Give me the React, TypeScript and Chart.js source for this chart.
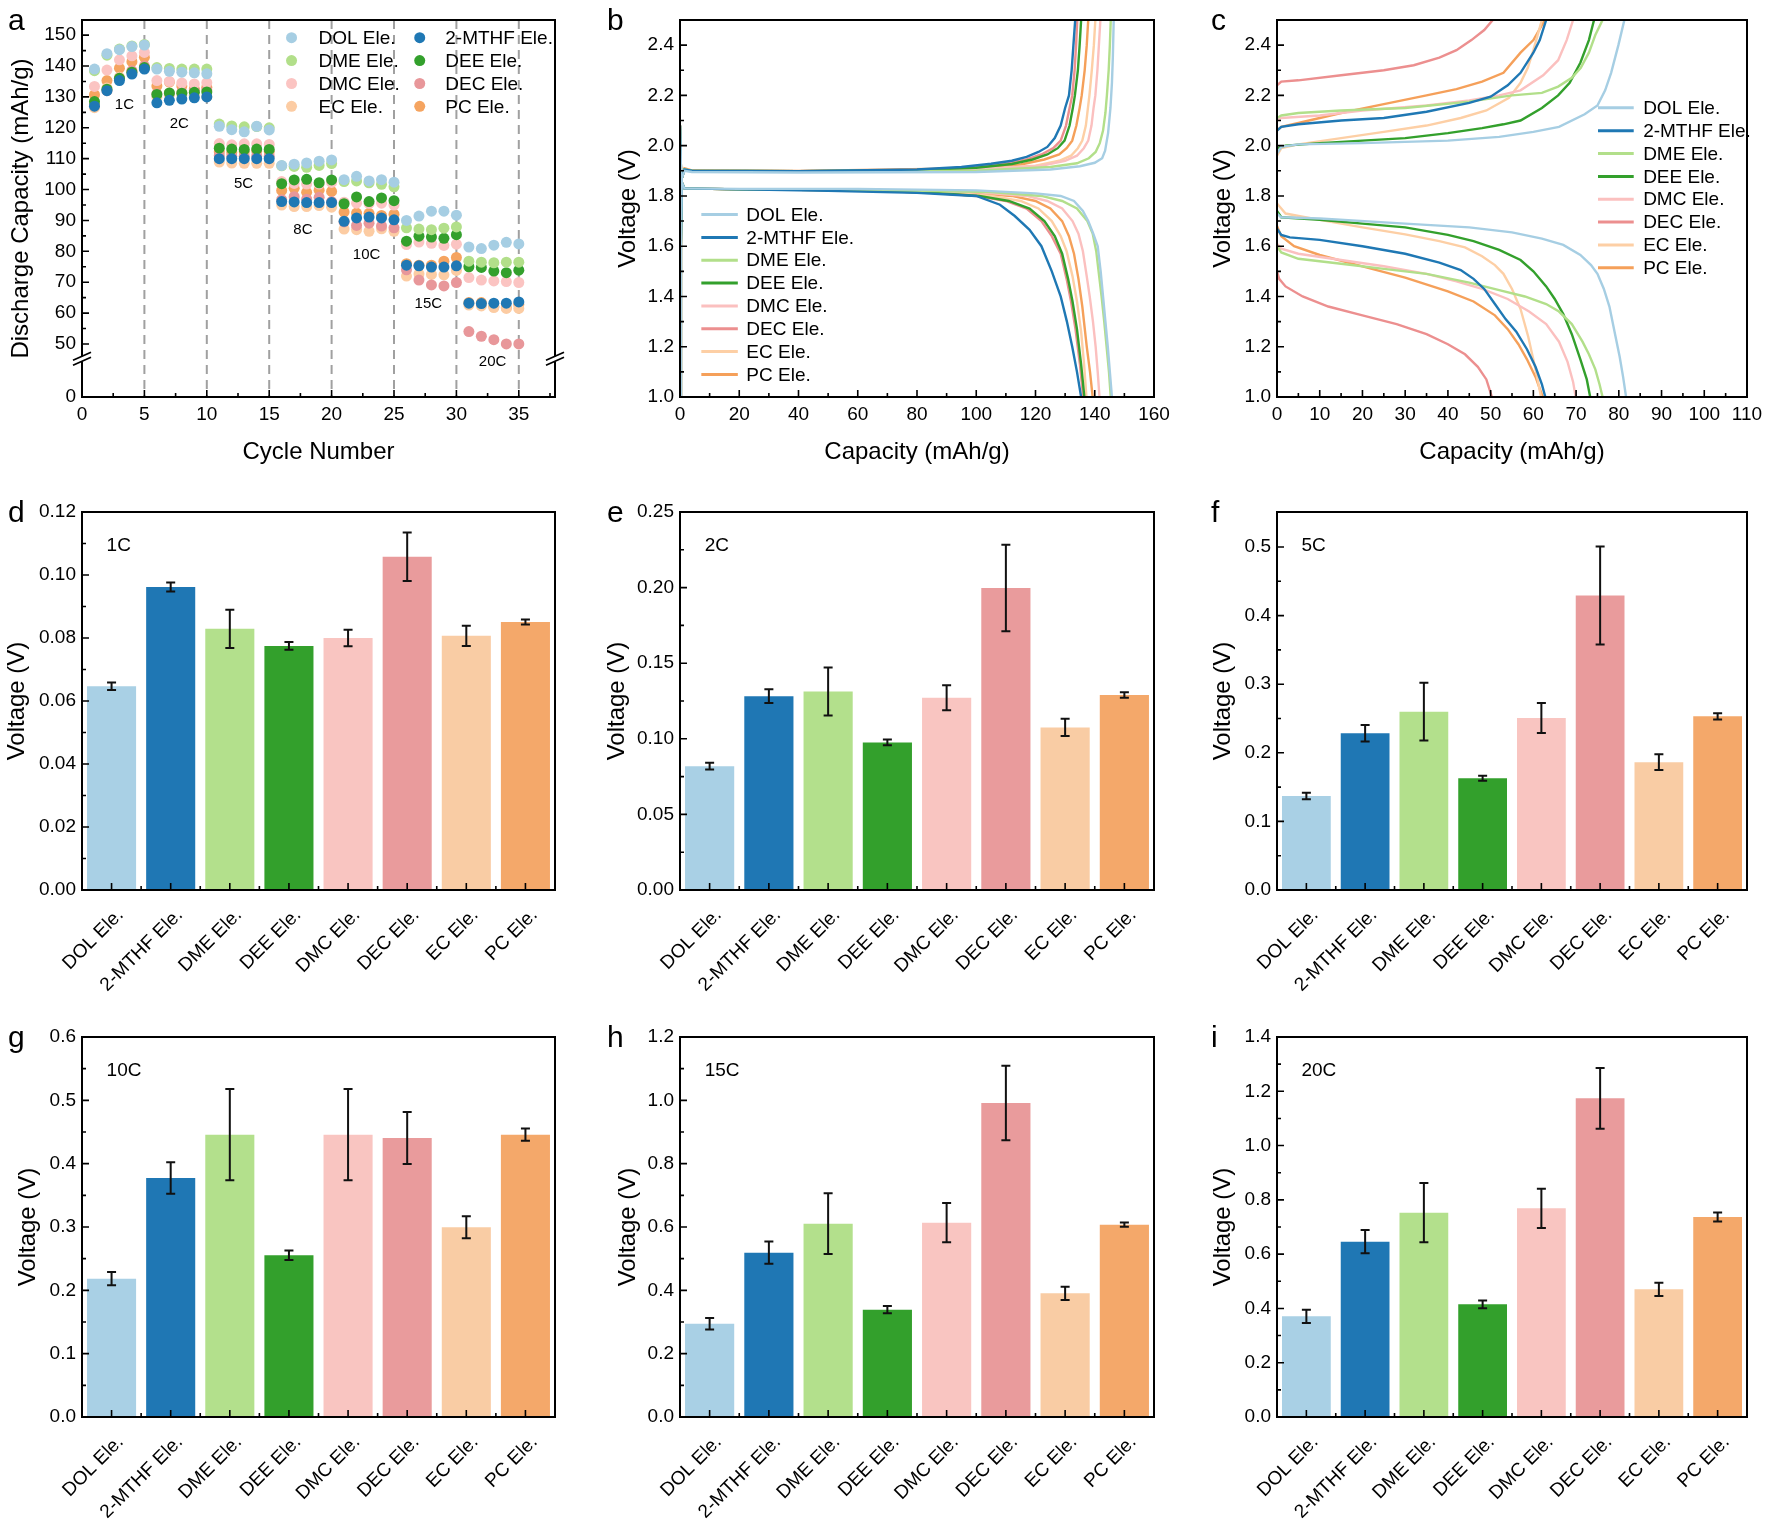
import React, { useEffect, useRef } from 'react';
import { Chart, registerables } from 'chart.js';

Chart.register(...registerables);

const FONT = "'Liberation Sans', Arial, Helvetica, sans-serif";
Chart.defaults.font.family = FONT;
Chart.defaults.color = '#000';

// ---------------- categories & colours ----------------
const electrolytes = ['DOL Ele.', '2-MTHF Ele.', 'DME Ele.', 'DEE Ele.', 'DMC Ele.', 'DEC Ele.', 'EC Ele.', 'PC Ele.'];
const pointColors = ['#a6cee3', '#1f78b4', '#b2df8a', '#33a02c', '#fbc4c2', '#e8979a', '#fccca3', '#f5a460'];
const lineColors = ['#a6cee3', '#1f78b4', '#b2df8a', '#33a02c', '#fbc0bf', '#ec8f8f', '#fdcfa5', '#f5a05a'];
const barColors = ['#a9d0e5', '#1f77b4', '#b3e08c', '#33a02c', '#f9c5c1', '#e99b9c', '#f9cca4', '#f4a86a'];

// ---------------- panel a: rate capability ----------------
const cycles = [1, 2, 3, 4, 5, 6, 7, 8, 9, 10, 11, 12, 13, 14, 15, 16, 17, 18, 19, 20, 21, 22, 23, 24, 25, 26, 27, 28, 29, 30, 31, 32, 33, 34, 35];
const capDOL = [139, 144, 145.3, 146.3, 146.8, 139, 138.3, 138, 137.8, 137.5, 120.5, 119.4, 118.7, 120.5, 119.3, 107.8, 108.2, 108.6, 109.2, 109.6, 103.2, 104.3, 102.8, 103.2, 102.4, 90, 91.4, 93, 93, 91.7, 81.4, 80.9, 82, 82.9, 82.4];
const cap2MTHF = [127, 132, 135.3, 137.4, 139, 128.1, 128.9, 129.3, 129.7, 130, 110, 110, 110, 110, 110, 96.1, 96, 95.8, 95.8, 95.8, 89.7, 90.8, 91.1, 90.8, 90.2, 75.5, 75.3, 74.9, 74.9, 75.3, 63.2, 63.1, 63.2, 63.2, 63.6];
const capDME = [138.5, 143.5, 145.5, 146.5, 147, 139.5, 139.2, 139, 139, 139, 121.2, 120.6, 120.3, 120.4, 120, 107.7, 107.5, 107.2, 107.8, 108.4, 102.6, 102.8, 102.2, 101.7, 100.9, 87.6, 87.2, 87, 87.5, 87.9, 76.8, 76.5, 76.3, 76.5, 76.5];
const capDEE = [128.5, 132.5, 136, 138, 139.5, 130.8, 131.3, 131.2, 131.5, 131.6, 113.4, 113.1, 113, 113.1, 113, 101.9, 103.1, 103.3, 102.2, 103.1, 95.4, 97.6, 96.1, 97.3, 96.4, 83.3, 84.9, 84.6, 84.2, 85.4, 75, 74.8, 73.6, 73.1, 73.9];
const capDMC = [133.4, 138.7, 142, 143.3, 144.4, 135.3, 135, 134.5, 134.2, 134.6, 114.9, 114.5, 114.8, 114.8, 114.6, 102.6, 102, 101.8, 101.8, 102.3, 95.9, 95.6, 95.5, 95.6, 95, 82.2, 83, 82.6, 81.9, 82.3, 71.5, 70.7, 70.4, 70.2, 69.9];
const capDEC = [127.5, 132, 136, 138.5, 140, 131, 131.2, 131.5, 132, 132.2, 111, 110.8, 110.8, 110.9, 110.8, 96.7, 97.7, 96.9, 97.5, 96.1, 89.5, 88.4, 89.1, 88.2, 87.6, 74, 70.7, 69.1, 68.8, 69.9, 54, 52.5, 51.4, 50, 50];
const capEC = [126.5, 132.9, 136.4, 138.3, 139.3, 130, 130.5, 130.6, 130.5, 130.1, 108.9, 108.6, 108.5, 108.5, 108.5, 95, 94.5, 94.5, 94.8, 94.3, 87.2, 87, 86.5, 87.3, 86.5, 72, 72.7, 72.5, 72.4, 73.8, 62.6, 62.3, 61.8, 61.5, 61.5];
const capPC = [130.7, 135.3, 139.3, 141.4, 142.8, 133.5, 134.8, 133.5, 132.6, 133.1, 112.2, 112, 112.2, 112.5, 112.3, 99.7, 100.4, 99.1, 99.8, 99.4, 92.7, 92.4, 92.3, 91.6, 92, 76, 75.5, 75.5, 76.8, 78, 63.4, 63.4, 62.1, 61.8, 62.8];
const capSeries = [capDOL, cap2MTHF, capDME, capDEE, capDMC, capDEC, capEC, capPC];
const rateLabels = ['1C', '2C', '5C', '8C', '10C', '15C', '20C'];
const rateLabelCycle = [3.4, 7.8, 12.95, 17.7, 22.8, 27.75, 32.9];
const rateLabelCap = [127.5, 121.4, 101.8, 87, 78.8, 62.9, 44.3];
const rateBoundaries = [5, 10, 15, 20, 25, 30, 35];
const aXTicks = [0, 5, 10, 15, 20, 25, 30, 35];
const aXMinor = [2.5, 7.5, 12.5, 17.5, 22.5, 27.5, 32.5, 37.5];
const aYTicks = [50, 60, 70, 80, 90, 100, 110, 120, 130, 140, 150];
const aYMinor = [55, 65, 75, 85, 95, 105, 115, 125, 135, 145];
const aZeroPos = 32.83; // broken axis: where "0" of the lower segment sits
const aBreakPos = 45.2;

// ---------------- panel b: 1C charge/discharge profiles [capacity, voltage] ----------------
const bDisDOL = [[0, 2.08], [0.4, 1.86], [1.5, 1.83], [20, 1.828], [60, 1.828], [100, 1.822], [120, 1.81], [128.5, 1.8], [133, 1.78], [136, 1.74], [137.8, 1.7], [139.5, 1.65], [141, 1.6], [142, 1.5], [142.8, 1.4], [143.6, 1.3], [144.4, 1.2], [145.1, 1.1], [145.8, 1.0]];
const bDis2MTHF = [[0, 2.08], [0.4, 1.86], [1.5, 1.83], [20, 1.826], [50, 1.82], [80, 1.812], [92, 1.805], [100, 1.8], [108, 1.765], [113, 1.72], [118, 1.665], [122, 1.6], [125.5, 1.5], [128.5, 1.4], [130.6, 1.3], [132.4, 1.2], [134, 1.1], [135.4, 1.0]];
const bDisDME = [[0, 2.08], [0.4, 1.86], [1.5, 1.83], [20, 1.826], [60, 1.824], [105, 1.815], [122, 1.8], [129, 1.78], [134, 1.75], [137.5, 1.7], [139.3, 1.65], [140.5, 1.58], [141.5, 1.48], [142.3, 1.4], [143.2, 1.3], [144, 1.2], [144.8, 1.1], [145.4, 1.0]];
const bDisDEE = [[0, 2.08], [0.4, 1.86], [1.5, 1.83], [20, 1.826], [60, 1.822], [86, 1.812], [101, 1.8], [111, 1.78], [118, 1.75], [123, 1.7], [126.5, 1.64], [129, 1.57], [131, 1.47], [132.5, 1.38], [134, 1.27], [135.4, 1.13], [136.5, 1.0]];
const bDisDMC = [[0, 2.08], [0.4, 1.86], [1.5, 1.83], [20, 1.826], [60, 1.823], [100, 1.815], [117, 1.8], [124, 1.78], [129, 1.75], [132.5, 1.7], [134.5, 1.65], [136, 1.58], [137.3, 1.48], [138.3, 1.4], [139.4, 1.3], [140.3, 1.2], [141, 1.1], [141.6, 1.0]];
const bDisDEC = [[0, 2.08], [0.4, 1.86], [1.5, 1.83], [20, 1.826], [60, 1.822], [85, 1.812], [100, 1.8], [110, 1.78], [117, 1.75], [122, 1.7], [125.5, 1.64], [128.5, 1.57], [130.5, 1.47], [132, 1.38], [133.5, 1.27], [135, 1.13], [136.1, 1.0]];
const bDisEC = [[0, 2.08], [0.4, 1.86], [1.5, 1.83], [20, 1.826], [60, 1.822], [90, 1.815], [105, 1.8], [115, 1.78], [121, 1.75], [125.5, 1.7], [128.5, 1.64], [130.5, 1.58], [132.5, 1.48], [134, 1.38], [135.4, 1.26], [136.4, 1.13], [137.2, 1.0]];
const bDisPC = [[0, 2.08], [0.4, 1.86], [1.5, 1.83], [20, 1.826], [60, 1.822], [95, 1.815], [112, 1.8], [120, 1.78], [125, 1.75], [129, 1.7], [131.3, 1.64], [133, 1.57], [134.5, 1.47], [135.8, 1.36], [137.3, 1.2], [138.4, 1.1], [139.3, 1.0]];
const bChDOL = [[0, 1.0], [0.3, 1.6], [0.6, 1.87], [1.5, 1.9], [4, 1.895], [40, 1.893], [100, 1.895], [125, 1.905], [135, 1.918], [140, 1.932], [142.5, 1.95], [143.5, 1.98], [144.5, 2.05], [145.3, 2.15], [145.8, 2.25], [146.1, 2.35], [146.4, 2.5]];
const bCh2MTHF = [[0, 1.0], [0.3, 1.6], [0.6, 1.87], [1.5, 1.905], [4, 1.9], [40, 1.898], [80, 1.905], [95, 1.915], [105, 1.928], [112, 1.94], [117, 1.955], [121, 1.975], [124, 1.995], [126.5, 2.03], [128.5, 2.08], [130, 2.15], [131.3, 2.2], [132.2, 2.3], [132.8, 2.4], [133.4, 2.5]];
const bChDME = [[0, 1.0], [0.3, 1.6], [0.6, 1.87], [1.5, 1.905], [4, 1.9], [40, 1.898], [100, 1.9], [125, 1.915], [134, 1.93], [138, 1.95], [140.3, 1.975], [141.7, 2.01], [142.8, 2.06], [143.6, 2.13], [144.1, 2.2], [144.7, 2.3], [145.1, 2.4], [145.4, 2.5]];
const bChDEE = [[0, 1.0], [0.3, 1.6], [0.6, 1.87], [1.5, 1.905], [4, 1.9], [40, 1.898], [80, 1.903], [100, 1.912], [112, 1.927], [119, 1.945], [124, 1.965], [127.5, 1.99], [129.8, 2.02], [131.5, 2.08], [132.6, 2.15], [133.3, 2.2], [134.3, 2.3], [134.9, 2.4], [135.4, 2.5]];
const bChDMC = [[0, 1.0], [0.3, 1.6], [0.6, 1.87], [1.5, 1.905], [4, 1.9], [40, 1.898], [100, 1.905], [122, 1.92], [130, 1.94], [134, 1.96], [136.3, 1.99], [137.8, 2.02], [138.9, 2.08], [139.6, 2.15], [140.2, 2.2], [140.9, 2.3], [141.4, 2.4], [141.9, 2.5]];
const bChDEC = [[0, 1.0], [0.3, 1.6], [0.6, 1.87], [1.5, 1.905], [4, 1.9], [40, 1.898], [80, 1.903], [100, 1.915], [110, 1.928], [117, 1.945], [122, 1.965], [126, 1.99], [128.5, 2.02], [130.3, 2.08], [131.5, 2.15], [132.4, 2.2], [133.2, 2.3], [133.7, 2.4], [134.1, 2.5]];
const bChEC = [[0, 1.0], [0.3, 1.6], [0.6, 1.87], [1.5, 1.905], [4, 1.9], [40, 1.898], [100, 1.905], [120, 1.92], [128, 1.94], [132, 1.96], [134.3, 1.99], [135.8, 2.02], [137, 2.08], [137.7, 2.15], [138.2, 2.2], [139, 2.3], [139.7, 2.4], [140.2, 2.5]];
const bChPC = [[0, 1.0], [0.3, 1.6], [0.6, 1.87], [1.5, 1.91], [4, 1.902], [40, 1.899], [100, 1.91], [115, 1.925], [123, 1.945], [128, 1.965], [130.5, 1.99], [132.4, 2.02], [133.8, 2.08], [134.9, 2.15], [135.6, 2.2], [136.6, 2.3], [137.3, 2.4], [137.8, 2.5]];
const bDischarge = [bDisDOL, bDis2MTHF, bDisDME, bDisDEE, bDisDMC, bDisDEC, bDisEC, bDisPC];
const bCharge = [bChDOL, bCh2MTHF, bChDME, bChDEE, bChDMC, bChDEC, bChEC, bChPC];
const bXTicks = [0, 20, 40, 60, 80, 100, 120, 140, 160];
const bXMinor = [10, 30, 50, 70, 90, 110, 130, 150];
const vTicks = [1.0, 1.2, 1.4, 1.6, 1.8, 2.0, 2.2, 2.4];
const vMinor = [1.1, 1.3, 1.5, 1.7, 1.9, 2.1, 2.3];

// ---------------- panel c: 20C charge/discharge profiles ----------------
const cDisDOL = [[0, 1.73], [1, 1.715], [10, 1.71], [30, 1.69], [45, 1.675], [55, 1.655], [62, 1.63], [67, 1.605], [71, 1.565], [73.5, 1.525], [75, 1.49], [76.5, 1.43], [77.8, 1.36], [79, 1.26], [80.2, 1.16], [81, 1.08], [81.7, 1.0]];
const cDis2MTHF = [[0, 1.67], [1, 1.645], [3, 1.635], [10, 1.625], [20, 1.6], [30, 1.57], [38, 1.535], [43, 1.505], [46, 1.47], [48.5, 1.43], [51, 1.37], [53.5, 1.31], [56, 1.26], [58.5, 1.19], [60.5, 1.12], [62, 1.05], [62.8, 1.0]];
const cDisDME = [[0, 1.6], [1, 1.575], [5, 1.55], [15, 1.53], [25, 1.51], [35, 1.49], [45, 1.455], [52, 1.425], [58, 1.4], [63, 1.37], [66, 1.34], [69, 1.29], [71.5, 1.22], [73, 1.17], [74.5, 1.11], [75.5, 1.05], [76.2, 1.0]];
const cDisDEE = [[0, 1.74], [1, 1.715], [10, 1.705], [20, 1.69], [30, 1.675], [40, 1.645], [46, 1.62], [52, 1.585], [57, 1.545], [60, 1.5], [63, 1.44], [65, 1.39], [67, 1.33], [69, 1.25], [71, 1.15], [72.5, 1.07], [73.3, 1.0]];
const cDisDMC = [[0, 1.61], [1, 1.59], [5, 1.57], [15, 1.545], [25, 1.52], [35, 1.49], [42, 1.46], [48, 1.43], [54, 1.39], [59, 1.34], [63, 1.29], [66, 1.22], [68, 1.14], [69.3, 1.06], [69.9, 1.0]];
const cDisDEC = [[0, 1.5], [0.5, 1.47], [2, 1.44], [6, 1.4], [12, 1.36], [20, 1.325], [28, 1.29], [35, 1.25], [40, 1.21], [44, 1.17], [47, 1.12], [49, 1.07], [50.3, 1.0]];
const cDisEC = [[0, 1.77], [2, 1.73], [10, 1.705], [20, 1.675], [30, 1.647], [38, 1.62], [44, 1.595], [48, 1.56], [51, 1.525], [53, 1.49], [55, 1.43], [57, 1.35], [58.8, 1.24], [60.5, 1.11], [61.8, 1.0]];
const cDisPC = [[0, 1.68], [1, 1.64], [4, 1.6], [10, 1.565], [20, 1.52], [30, 1.475], [40, 1.42], [46, 1.38], [51, 1.325], [54, 1.27], [56.5, 1.21], [58.5, 1.15], [60.5, 1.08], [62.2, 1.0]];
const cChDOL = [[0, 1.97], [1, 1.995], [5, 2.005], [20, 2.01], [40, 2.02], [52, 2.035], [60, 2.055], [66, 2.075], [72, 2.125], [75, 2.16], [76.8, 2.22], [78.2, 2.29], [79.9, 2.4], [81.3, 2.5]];
const cCh2MTHF = [[0, 2.06], [1, 2.075], [5, 2.085], [15, 2.1], [25, 2.11], [35, 2.135], [45, 2.17], [50, 2.195], [54, 2.24], [57, 2.29], [60, 2.37], [61.5, 2.42], [63, 2.5]];
const cChDME = [[0, 2.11], [1, 2.12], [5, 2.13], [15, 2.14], [30, 2.15], [45, 2.175], [55, 2.2], [62, 2.21], [65.8, 2.235], [69, 2.27], [71.1, 2.31], [73, 2.37], [74.5, 2.44], [76.2, 2.5]];
const cChDEE = [[0, 1.99], [2, 2.0], [10, 2.01], [20, 2.02], [30, 2.03], [40, 2.05], [48, 2.07], [53, 2.085], [57, 2.1], [62, 2.15], [65.8, 2.2], [68.5, 2.25], [71, 2.33], [73, 2.42], [74.2, 2.5]];
const cChDMC = [[0, 2.1], [1, 2.11], [10, 2.12], [20, 2.14], [35, 2.16], [45, 2.18], [52, 2.2], [57, 2.22], [62.3, 2.28], [65.8, 2.34], [67.8, 2.42], [69.3, 2.5]];
const cChDEC = [[0, 2.24], [1, 2.255], [5, 2.26], [15, 2.28], [25, 2.3], [32, 2.32], [38, 2.35], [42, 2.38], [45.5, 2.42], [48.5, 2.46], [50.5, 2.5]];
const cChEC = [[0, 1.96], [1, 1.99], [5, 2.005], [15, 2.03], [25, 2.055], [35, 2.08], [43, 2.11], [49, 2.14], [54.3, 2.19], [57, 2.25], [58.7, 2.31], [60, 2.38], [61, 2.44], [62, 2.5]];
const cChPC = [[0, 2.06], [1, 2.075], [5, 2.09], [15, 2.13], [25, 2.165], [35, 2.2], [42, 2.225], [48, 2.255], [53, 2.29], [57, 2.37], [60, 2.42], [62.7, 2.5]];
const cDischarge = [cDisDOL, cDis2MTHF, cDisDME, cDisDEE, cDisDMC, cDisDEC, cDisEC, cDisPC];
const cCharge = [cChDOL, cCh2MTHF, cChDME, cChDEE, cChDMC, cChDEC, cChEC, cChPC];
const cXTicks = [0, 10, 20, 30, 40, 50, 60, 70, 80, 90, 100, 110];
const cXMinor = [5, 15, 25, 35, 45, 55, 65, 75, 85, 95, 105];

// ---------------- panels d-i: overpotential bars ----------------
const ovp1C = [0.0647, 0.0962, 0.0829, 0.0775, 0.08, 0.1058, 0.0807, 0.0851];
const err1C = [0.0012, 0.0014, 0.0061, 0.0012, 0.0026, 0.0077, 0.0032, 0.0008];
const ovp2C = [0.0819, 0.1282, 0.1313, 0.0976, 0.1271, 0.1998, 0.1075, 0.129];
const err2C = [0.0022, 0.0046, 0.0159, 0.0019, 0.0083, 0.0286, 0.0057, 0.0018];
const ovp5C = [0.137, 0.2285, 0.26, 0.163, 0.2507, 0.4293, 0.1863, 0.2531];
const err5C = [0.0048, 0.012, 0.042, 0.0036, 0.0218, 0.0714, 0.0114, 0.0046];
const ovp10C = [0.2184, 0.3774, 0.4458, 0.2553, 0.4458, 0.4405, 0.2995, 0.4458];
const err10C = [0.0105, 0.025, 0.072, 0.0074, 0.072, 0.041, 0.0174, 0.0097];
const ovp15C = [0.2947, 0.519, 0.6105, 0.339, 0.6137, 0.9916, 0.3905, 0.6074];
const err15C = [0.018, 0.035, 0.096, 0.0116, 0.062, 0.118, 0.021, 0.0068];
const ovp20C = [0.3709, 0.646, 0.7528, 0.4151, 0.7688, 1.174, 0.4703, 0.7368];
const err20C = [0.0246, 0.043, 0.109, 0.014, 0.0725, 0.1118, 0.0246, 0.0166];

const dTicks = [0, 0.02, 0.04, 0.06, 0.08, 0.1, 0.12];
const dMinor = [0.01, 0.03, 0.05, 0.07, 0.09, 0.11];
const eTicks = [0, 0.05, 0.1, 0.15, 0.2, 0.25];
const eMinor = [0.025, 0.075, 0.125, 0.175, 0.225];
const fTicks = [0, 0.1, 0.2, 0.3, 0.4, 0.5];
const fMinor = [0.05, 0.15, 0.25, 0.35, 0.45];
const gTicks = [0, 0.1, 0.2, 0.3, 0.4, 0.5, 0.6];
const gMinor = [0.05, 0.15, 0.25, 0.35, 0.45, 0.55];
const hTicks = [0, 0.2, 0.4, 0.6, 0.8, 1.0, 1.2];
const hMinor = [0.1, 0.3, 0.5, 0.7, 0.9, 1.1];
const iTicks = [0, 0.2, 0.4, 0.6, 0.8, 1.0, 1.2, 1.4];
const iMinor = [0.1, 0.3, 0.5, 0.7, 0.9, 1.1, 1.3];

// ---------------- layout ----------------
const colLeft = [82, 680, 1277];
const colWidth = [473, 474, 470];
const rowTop = [20, 512, 1037];
const rowHeight = [377, 378, 380];
const Y_AXIS_W = 80;
const PAD_TOP = 20;
const PAD_RIGHT = 20;
const BAR_X_AXIS_H = 132;

// ---------------- helpers ----------------
const toXY = (pts: number[][]) => pts.map((p) => ({ x: p[0], y: p[1] }));

function linearAxis(o: any) {
  return {
    type: 'linear',
    position: o.isX ? 'bottom' : 'left',
    bounds: 'data',
    min: o.min,
    max: o.max,
    grid: { display: false, drawTicks: false },
    border: { display: false },
    afterBuildTicks: (s: any) => {
      s.ticks = o.ticks.map((v: number) => ({ value: v }));
    },
    afterFit: (s: any) => {
      if (o.isX) s.height = o.size;
      else s.width = o.size;
      s.paddingLeft = 0;
      s.paddingRight = 0;
      s.paddingTop = 0;
      s.paddingBottom = 0;
    },
    ticks: {
      autoSkip: false,
      maxRotation: 0,
      minRotation: 0,
      padding: 6,
      font: { size: 19 },
      color: '#000',
      callback: (v: any) => o.fmt(Number(v)),
    },
    title: {
      display: true,
      text: o.title,
      color: '#000',
      font: { size: 24 },
      padding: o.isX ? { top: 0, bottom: o.titlePad } : { top: o.titlePad, bottom: 0 },
    },
  };
}

function frameTicksPlugin(xMinor: number[], yMinor: number[]) {
  return {
    id: 'frameTicks',
    afterDraw(chart: any) {
      const { ctx, chartArea: ca, scales } = chart;
      const xs = scales.x;
      const ys = scales.y;
      ctx.save();
      ctx.strokeStyle = '#000';
      ctx.lineWidth = 1.6;
      ctx.beginPath();
      xs.ticks.forEach((t: any) => {
        const p = xs.getPixelForValue(t.value);
        ctx.moveTo(p, ca.bottom);
        ctx.lineTo(p, ca.bottom - 7);
      });
      xMinor.forEach((v) => {
        const p = xs.getPixelForValue(v);
        ctx.moveTo(p, ca.bottom);
        ctx.lineTo(p, ca.bottom - 4);
      });
      ys.ticks.forEach((t: any) => {
        const p = ys.getPixelForValue(t.value);
        ctx.moveTo(ca.left, p);
        ctx.lineTo(ca.left + 7, p);
      });
      yMinor.forEach((v) => {
        const p = ys.getPixelForValue(v);
        ctx.moveTo(ca.left, p);
        ctx.lineTo(ca.left + 4, p);
      });
      ctx.stroke();
      ctx.lineWidth = 2;
      ctx.strokeRect(ca.left, ca.top, ca.right - ca.left, ca.bottom - ca.top);
      ctx.restore();
    },
  };
}

function fracTextPlugin(id: string, items: { text: string; fx: number; fy: number; size: number }[]) {
  return {
    id,
    afterDraw(chart: any) {
      const { ctx, chartArea: ca } = chart;
      ctx.save();
      ctx.fillStyle = '#000';
      ctx.textAlign = 'left';
      ctx.textBaseline = 'middle';
      items.forEach((it) => {
        ctx.font = `${it.size}px ${FONT}`;
        ctx.fillText(it.text, ca.left + it.fx * (ca.right - ca.left), ca.top + it.fy * (ca.bottom - ca.top));
      });
      ctx.restore();
    },
  };
}

function legendPlugin(id: string, items: any[], kind: 'point' | 'line', size: number) {
  return {
    id,
    afterDraw(chart: any) {
      const { ctx, chartArea: ca } = chart;
      const w = ca.right - ca.left;
      const h = ca.bottom - ca.top;
      ctx.save();
      ctx.font = `${size}px ${FONT}`;
      ctx.textAlign = 'left';
      ctx.textBaseline = 'middle';
      items.forEach((it) => {
        const yy = ca.top + it.fy * h;
        if (kind === 'point') {
          ctx.fillStyle = it.color;
          ctx.beginPath();
          ctx.arc(ca.left + it.mx * w, yy, 5.5, 0, Math.PI * 2);
          ctx.fill();
        } else {
          ctx.strokeStyle = it.color;
          ctx.lineWidth = 3;
          ctx.beginPath();
          ctx.moveTo(ca.left + it.x0 * w, yy);
          ctx.lineTo(ca.left + it.x1 * w, yy);
          ctx.stroke();
        }
        ctx.fillStyle = '#000';
        ctx.fillText(it.label, ca.left + it.tx * w, yy + 1);
      });
      ctx.restore();
    },
  };
}

function errorBarPlugin(vals: number[], errs: number[]) {
  return {
    id: 'errorBars',
    afterDatasetsDraw(chart: any) {
      const { ctx, scales } = chart;
      const meta = chart.getDatasetMeta(0);
      ctx.save();
      ctx.strokeStyle = '#111';
      ctx.lineWidth = 2;
      ctx.beginPath();
      meta.data.forEach((bar: any, i: number) => {
        const x = bar.x;
        const yHi = scales.y.getPixelForValue(vals[i] + errs[i]);
        const yLo = scales.y.getPixelForValue(vals[i] - errs[i]);
        ctx.moveTo(x, yHi);
        ctx.lineTo(x, yLo);
        ctx.moveTo(x - 4.5, yHi);
        ctx.lineTo(x + 4.5, yHi);
        ctx.moveTo(x - 4.5, yLo);
        ctx.lineTo(x + 4.5, yLo);
      });
      ctx.stroke();
      ctx.restore();
    },
  };
}

const baseOptions = {
  animation: false,
  responsive: false,
  maintainAspectRatio: false,
  events: [],
  layout: { padding: { left: 0, top: PAD_TOP, right: PAD_RIGHT, bottom: 0 } },
  plugins: { legend: { display: false }, tooltip: { enabled: false } },
};

// ---------------- panel configs ----------------
function configA() {
  const datasets = capSeries.map((s, i) => ({
    label: electrolytes[i],
    data: s.map((v, k) => ({ x: cycles[k], y: v })),
    showLine: false,
    pointRadius: 5.5,
    pointBackgroundColor: pointColors[i],
    pointBorderWidth: 0,
    borderWidth: 0,
    borderColor: pointColors[i],
    backgroundColor: pointColors[i],
  }));
  const dashed = {
    id: 'rateDividers',
    beforeDatasetsDraw(chart: any) {
      const { ctx, chartArea: ca, scales } = chart;
      ctx.save();
      ctx.strokeStyle = '#a0a0a0';
      ctx.lineWidth = 2;
      ctx.setLineDash([9, 6]);
      rateBoundaries.forEach((b) => {
        const x = scales.x.getPixelForValue(b);
        ctx.beginPath();
        ctx.moveTo(x, ca.top);
        ctx.lineTo(x, ca.bottom);
        ctx.stroke();
      });
      ctx.restore();
    },
  };
  const rateText = {
    id: 'rateText',
    afterDatasetsDraw(chart: any) {
      const { ctx, scales } = chart;
      ctx.save();
      ctx.fillStyle = '#000';
      ctx.font = `15px ${FONT}`;
      ctx.textAlign = 'center';
      ctx.textBaseline = 'middle';
      rateLabels.forEach((t, i) => {
        ctx.fillText(t, scales.x.getPixelForValue(rateLabelCycle[i]), scales.y.getPixelForValue(rateLabelCap[i]));
      });
      ctx.restore();
    },
  };
  const axisBreak = {
    id: 'axisBreak',
    afterDraw(chart: any) {
      const { ctx, chartArea: ca, scales } = chart;
      const py = scales.y.getPixelForValue(aBreakPos);
      ctx.save();
      [ca.left, ca.right].forEach((px: number) => {
        ctx.fillStyle = '#fff';
        ctx.fillRect(px - 3, py - 2.5, 6, 5);
        ctx.strokeStyle = '#000';
        ctx.lineWidth = 1.8;
        ctx.beginPath();
        ctx.moveTo(px - 9, py + 2.5 + 4);
        ctx.lineTo(px + 9, py + 2.5 - 4);
        ctx.moveTo(px - 9, py - 2.5 + 4);
        ctx.lineTo(px + 9, py - 2.5 - 4);
        ctx.stroke();
      });
      ctx.restore();
    },
  };
  const legendItems = electrolytes.map((label, i) => ({
    label,
    color: pointColors[i],
    mx: i % 2 === 0 ? 0.443 : 0.714,
    tx: i % 2 === 0 ? 0.5 : 0.768,
    fy: 0.047 + Math.floor(i / 2) * 0.0607,
  }));
  return {
    type: 'scatter',
    data: { datasets },
    options: {
      ...baseOptions,
      scales: {
        x: linearAxis({ isX: true, min: 0, max: 37.9, ticks: aXTicks, fmt: (v: number) => String(v), title: 'Cycle Number', titlePad: 10, size: 80 }),
        y: linearAxis({
          isX: false,
          min: aZeroPos,
          max: 154.9,
          ticks: [aZeroPos, ...aYTicks],
          fmt: (v: number) => (v < 40 ? '0' : String(v)),
          title: 'Discharge Capacity (mAh/g)',
          titlePad: 5,
          size: Y_AXIS_W,
        }),
      },
    },
    plugins: [dashed, rateText, frameTicksPlugin(aXMinor, aYMinor), axisBreak, legendPlugin('legendA', legendItems, 'point', 19)],
  };
}

function profileConfig(discharge: number[][][], charge: number[][][], xMax: number, xTicks: number[], xMinor: number[], titlePad: number, legendLayout: any) {
  const datasets: any[] = [];
  electrolytes.forEach((label, i) => {
    [discharge[i], charge[i]].forEach((pts) => {
      datasets.push({
        label,
        data: toXY(pts),
        showLine: true,
        pointRadius: 0,
        borderWidth: 2.4,
        borderColor: lineColors[i],
        backgroundColor: lineColors[i],
        tension: 0,
        fill: false,
      });
    });
  });
  const legendItems = electrolytes.map((label, i) => ({
    label,
    color: lineColors[i],
    x0: legendLayout.x0,
    x1: legendLayout.x1,
    tx: legendLayout.tx,
    fy: legendLayout.fy0 + i * legendLayout.step,
  }));
  return {
    type: 'scatter',
    data: { datasets },
    options: {
      ...baseOptions,
      scales: {
        x: linearAxis({ isX: true, min: 0, max: xMax, ticks: xTicks, fmt: (v: number) => String(v), title: 'Capacity (mAh/g)', titlePad: 10, size: 80 }),
        y: linearAxis({ isX: false, min: 1.0, max: 2.5, ticks: vTicks, fmt: (v: number) => v.toFixed(1), title: 'Voltage (V)', titlePad, size: Y_AXIS_W }),
      },
    },
    plugins: [frameTicksPlugin(xMinor, vMinor), legendPlugin('legendLines', legendItems, 'line', 19)],
  };
}

function barConfig(vals: number[], errs: number[], yMax: number, yTicks: number[], yMinor: number[], digits: number, rate: string, titlePad: number) {
  const catMinor = electrolytes.slice(1).map((_, i) => i + 0.5);
  return {
    type: 'bar',
    data: {
      labels: electrolytes,
      datasets: [{ data: vals, backgroundColor: barColors, borderWidth: 0, barPercentage: 0.83, categoryPercentage: 1 }],
    },
    options: {
      ...baseOptions,
      scales: {
        x: {
          type: 'category',
          offset: true,
          grid: { display: false, drawTicks: false, offset: true },
          border: { display: false },
          ticks: { autoSkip: false, minRotation: 45, maxRotation: 45, padding: 14, labelOffset: 9, font: { size: 19 }, color: '#000' },
          afterFit: (s: any) => {
            s.height = BAR_X_AXIS_H;
            s.paddingLeft = 0;
            s.paddingRight = 0;
          },
        },
        y: linearAxis({ isX: false, min: 0, max: yMax, ticks: yTicks, fmt: (v: number) => v.toFixed(digits), title: 'Voltage (V)', titlePad, size: Y_AXIS_W }),
      },
    },
    plugins: [errorBarPlugin(vals, errs), frameTicksPlugin(catMinor, yMinor), fracTextPlugin('rateTag', [{ text: rate, fx: 0.052, fy: 0.09, size: 19 }])],
  };
}

// ---------------- components ----------------
function ChartCanvas({ col, row, bottomH, make }: { col: number; row: number; bottomH: number; make: () => any }) {
  const ref = useRef<HTMLCanvasElement | null>(null);
  const x = colLeft[col] - Y_AXIS_W;
  const y = rowTop[row] - PAD_TOP;
  const w = colWidth[col] + Y_AXIS_W + PAD_RIGHT;
  const h = rowHeight[row] + PAD_TOP + bottomH;
  useEffect(() => {
    if (!ref.current) return;
    const chart = new Chart(ref.current, make());
    return () => chart.destroy();
  }, []);
  return <canvas ref={ref} width={w} height={h} style={{ position: 'absolute', left: x, top: y, width: w, height: h }} />;
}

const panelLetters = ['a', 'b', 'c', 'd', 'e', 'f', 'g', 'h', 'i'];
const letterLeft = [8, 607, 1211];

export default function App() {
  return (
    <div style={{ position: 'absolute', left: 0, top: 0, width: 1772, height: 1528, background: '#fff', fontFamily: FONT, overflow: 'hidden' }}>
      <ChartCanvas col={0} row={0} bottomH={80} make={configA} />
      <ChartCanvas
        col={1}
        row={0}
        bottomH={80}
        make={() => profileConfig(bDischarge, bCharge, 160, bXTicks, bXMinor, 13.5, { x0: 0.045, x1: 0.122, tx: 0.14, fy0: 0.516, step: 0.0606 })}
      />
      <ChartCanvas
        col={2}
        row={0}
        bottomH={80}
        make={() => profileConfig(cDischarge, cCharge, 110, cXTicks, cXMinor, 12.4, { x0: 0.683, x1: 0.759, tx: 0.779, fy0: 0.233, step: 0.0606 })}
      />
      <ChartCanvas col={0} row={1} bottomH={BAR_X_AXIS_H} make={() => barConfig(ovp1C, err1C, 0.12, dTicks, dMinor, 2, '1C', 0.6)} />
      <ChartCanvas col={1} row={1} bottomH={BAR_X_AXIS_H} make={() => barConfig(ovp2C, err2C, 0.25, eTicks, eMinor, 2, '2C', 2.5)} />
      <ChartCanvas col={2} row={1} bottomH={BAR_X_AXIS_H} make={() => barConfig(ovp5C, err5C, 0.551, fTicks, fMinor, 1, '5C', 12.4)} />
      <ChartCanvas col={0} row={2} bottomH={BAR_X_AXIS_H} make={() => barConfig(ovp10C, err10C, 0.6, gTicks, gMinor, 1, '10C', 12)} />
      <ChartCanvas col={1} row={2} bottomH={BAR_X_AXIS_H} make={() => barConfig(ovp15C, err15C, 1.2, hTicks, hMinor, 1, '15C', 14)} />
      <ChartCanvas col={2} row={2} bottomH={BAR_X_AXIS_H} make={() => barConfig(ovp20C, err20C, 1.4, iTicks, iMinor, 1, '20C', 12.4)} />
      {panelLetters.map((l, k) => (
        <div
          key={l}
          style={{ position: 'absolute', left: letterLeft[k % 3], top: rowTop[Math.floor(k / 3)] - 15, fontSize: 30, lineHeight: '30px', color: '#000' }}
        >
          {l}
        </div>
      ))}
    </div>
  );
}
